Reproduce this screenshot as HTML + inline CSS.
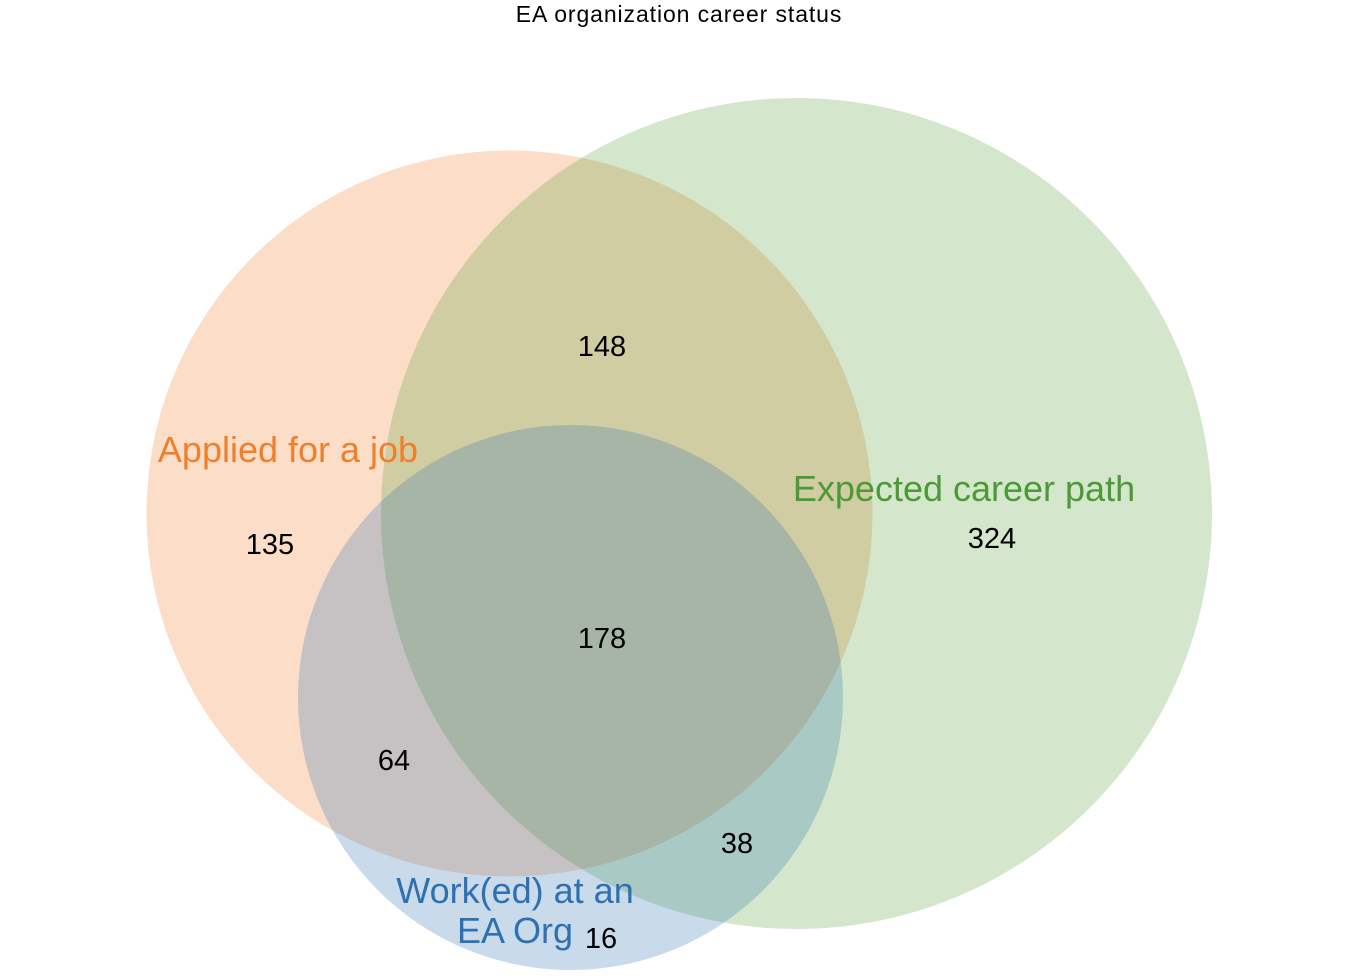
<!DOCTYPE html>
<html><head><meta charset="utf-8"><style>
html,body{margin:0;padding:0;background:#fff;}
svg{display:block;}
text{font-family:"Liberation Sans",sans-serif;}
</style></head><body>
<svg width="1370" height="980" viewBox="0 0 1370 980" xmlns="http://www.w3.org/2000/svg">
<circle cx="509.5" cy="513.5" r="363" fill="rgb(240,130,50)" fill-opacity="0.27"/>
<circle cx="796.5" cy="513.5" r="415.5" fill="rgb(75,155,45)" fill-opacity="0.24"/>
<circle cx="570.5" cy="697.5" r="272.5" fill="rgb(40,110,175)" fill-opacity="0.25"/>
<text x="679" y="22" font-size="23" letter-spacing="0.9" text-anchor="middle" fill="#000">EA organization career status</text>
<text x="288" y="462" font-size="36" text-anchor="middle" fill="#f07f2a">Applied for a job</text>
<text x="964" y="501" font-size="36" text-anchor="middle" fill="#4c9a35">Expected career path</text>
<text x="515" y="903" font-size="36" text-anchor="middle" fill="#2f70b0">Work(ed) at an</text>
<text x="515" y="943" font-size="36" text-anchor="middle" fill="#2f70b0">EA Org</text>
<g font-size="29" text-anchor="middle" fill="#000">
<text x="602" y="356">148</text>
<text x="270" y="554">135</text>
<text x="992" y="548">324</text>
<text x="602" y="648">178</text>
<text x="394" y="770">64</text>
<text x="737" y="853">38</text>
<text x="601" y="948">16</text>
</g>
</svg>
</body></html>
